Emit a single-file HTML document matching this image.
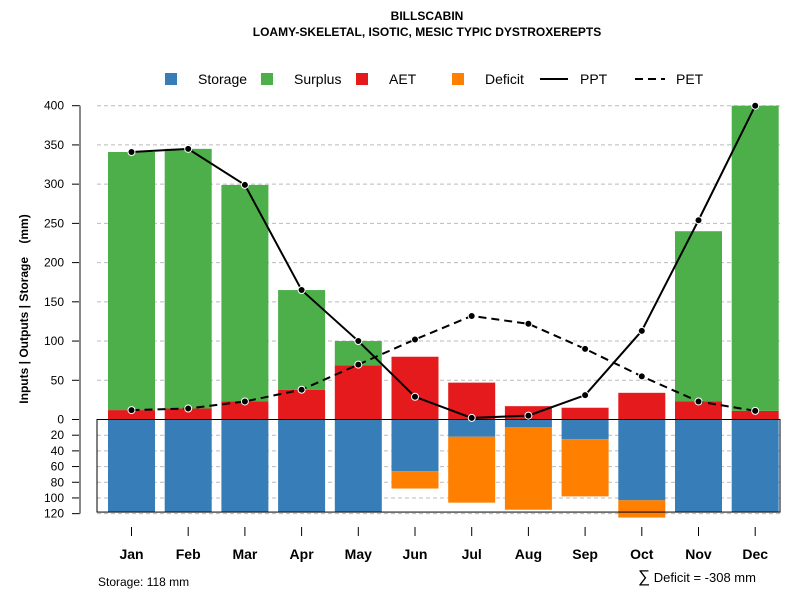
<!DOCTYPE html>
<html><head><meta charset="utf-8"><style>
body{margin:0;background:#fff;}
svg text{font-family:"Liberation Sans",Arial,sans-serif;}
</style></head><body>
<svg id="chart" width="800" height="600" xmlns="http://www.w3.org/2000/svg">
<text x="427" y="20" text-anchor="middle" font-size="12" font-weight="bold">BILLSCABIN</text>
<text x="427" y="36" text-anchor="middle" font-size="12" font-weight="bold">LOAMY-SKELETAL, ISOTIC, MESIC TYPIC DYSTROXEREPTS</text>
<g id="grid"></g><g id="bars"></g><g id="axes"></g><g id="lines"></g>
<g font-size="14">
<rect x="165" y="73" width="12" height="12" fill="#377eb8"/>
<text x="198" y="84">Storage</text>
<rect x="261" y="73" width="12" height="12" fill="#4daf4a"/>
<text x="294" y="84">Surplus</text>
<rect x="356" y="73" width="12" height="12" fill="#e41a1c"/>
<text x="389" y="84">AET</text>
<rect x="452" y="73" width="12" height="12" fill="#ff7f00"/>
<text x="485" y="84">Deficit</text>
<line x1="540" y1="79" x2="568" y2="79" stroke="#000" stroke-width="2"/>
<text x="580" y="84">PPT</text>
<line x1="635" y1="79" x2="665" y2="79" stroke="#000" stroke-width="2" stroke-dasharray="8,5"/>
<text x="676" y="84">PET</text>
</g>
<text transform="translate(28,309) rotate(-90)" text-anchor="middle" font-size="12" font-weight="bold" xml:space="preserve">Inputs | Outputs | Storage    (mm)</text>
<text x="98" y="586" font-size="12">Storage: 118 mm</text>
<text x="638" y="582" font-size="13"><tspan font-size="17">∑</tspan> Deficit = -308 mm</text>
</svg>
<script>
const months=["Jan","Feb","Mar","Apr","May","Jun","Jul","Aug","Sep","Oct","Nov","Dec"];
const aet=[12,14,23,38,69,80,47,17,15,34,23,11];
const surplus=[329,331,276,127,31,0,0,0,0,0,217,389];
const storage=[118,118,118,118,118,66,22,10,25,103,118,118];
const deficit=[0,0,0,0,0,22,84,105,73,22,0,0];
const ppt=[341,345,299,165,100,29,2,5,31,113,254,400];
const pet=[12,14,23,38,70,102,132,122,90,55,23,11];
const topTicks=[0,50,100,150,200,250,300,350,400];
const botTicks=[20,40,60,80,100,120];
const NS="http://www.w3.org/2000/svg";
const y=v=>419.5-v*0.7845;
const x=i=>131.5+i*56.7;
const bw=47;
function mk(tag,attrs,parent){const e=document.createElementNS(NS,tag);for(const k in attrs)e.setAttribute(k,attrs[k]);document.getElementById(parent).appendChild(e);return e;}
topTicks.forEach(t=>{
 if(t>0){const g=mk('line',{x1:97,x2:780,y1:y(t),y2:y(t),stroke:'#bbb','stroke-dasharray':'4,3'},'grid');
 
 }
 const tk=mk('line',{x1:72,x2:80,y1:y(t),y2:y(t),stroke:'#000'},'axes');
 
 
 const tx=mk('text',{x:64,y:y(t)+4,'text-anchor':'end','font-size':12},'axes');tx.textContent=t;
 
 
});
botTicks.forEach(t=>{
 const g=mk('line',{x1:97,x2:780,y1:y(-t),y2:y(-t),stroke:'#bbb','stroke-dasharray':'4,3'},'grid');
 
 
 const tk=mk('line',{x1:72,x2:80,y1:y(-t),y2:y(-t),stroke:'#000'},'axes');
 
 
 const tx=mk('text',{x:64,y:y(-t)+4,'text-anchor':'end','font-size':12},'axes');tx.textContent=t;
 
 
});
const ax=mk('line',{x1:80,x2:80,y1:y(400),y2:y(-120),stroke:'#888','stroke-width':2},'axes');


months.forEach((m,i)=>{
 const cx=x(i);
 const r1=mk('rect',{x:cx-bw/2,y:y(aet[i]),width:bw,height:aet[i]*0.7845,fill:'#e41a1c'},'bars');
 
 
 if(surplus[i]>0){const r2=mk('rect',{x:cx-bw/2,y:y(aet[i]+surplus[i]),width:bw,height:surplus[i]*0.7845,fill:'#4daf4a'},'bars');
 
 }
 const r3=mk('rect',{x:cx-bw/2,y:y(0),width:bw,height:storage[i]*0.7845,fill:'#377eb8'},'bars');
 
 
 if(deficit[i]>0){const r4=mk('rect',{x:cx-bw/2,y:y(-storage[i]),width:bw,height:deficit[i]*0.7845,fill:'#ff7f00'},'bars');
 
 }
 const tk=mk('line',{x1:cx,x2:cx,y1:527,y2:536,stroke:'#000'},'axes');
 
 
 const tx=mk('text',{x:cx,y:559,'text-anchor':'middle','font-size':14,'font-weight':'bold'},'axes');tx.textContent=m;
 
 
});
const fr=mk('rect',{x:97,y:y(0),width:683,height:118*0.7845,fill:'none',stroke:'#000','stroke-width':1},'axes');


function series(vals,name,dash){
 const pl=mk('polyline',{points:vals.map((v,i)=>x(i)+','+y(v)).join(' '),fill:'none',stroke:'#000','stroke-width':2,'stroke-dasharray':dash},'lines');
 
 
 vals.forEach((v,i)=>{const c=mk('circle',{cx:x(i),cy:y(v),r:3.5,fill:'#000',stroke:'#fff','stroke-width':1},'lines');
 
 });
}
series(pet,'pet','8,5');
series(ppt,'ppt','none');
</script>
</body></html>
